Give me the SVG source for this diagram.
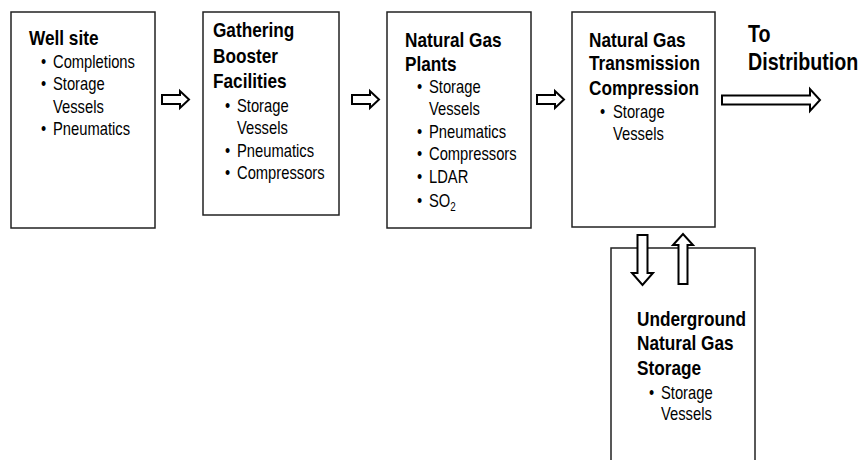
<svg xmlns="http://www.w3.org/2000/svg" width="863" height="460" viewBox="0 0 863 460">
<style>
.box{fill:#fff;stroke:#222;stroke-width:1.5}
.t,.i,.d{font-family:"Liberation Sans Narrow","Liberation Sans",Arial,sans-serif;fill:#000;transform-box:fill-box;transform-origin:0 0;transform:scaleX(0.82)}
.t{font-weight:bold;font-size:21px}
.d{font-weight:bold;font-size:24px}
.i{font-size:18px}
.arr{fill:#fff;stroke:#000;stroke-width:2;stroke-linejoin:miter}
</style>
<rect width="863" height="460" fill="#fff"/>
<g id="well-site">
<rect class="box" x="11" y="12" width="144" height="216"/>
<text class="t" x="29" y="45">Well site</text>
<text class="i" x="41" y="68">•</text><text class="i" x="53" y="68">Completions</text>
<text class="i" x="41" y="90">•</text><text class="i" x="53" y="90">Storage</text>
<text class="i" x="53" y="113">Vessels</text>
<text class="i" x="41" y="135">•</text><text class="i" x="53" y="135">Pneumatics</text>
</g>
<g id="gathering">
<rect class="box" x="203" y="12" width="136" height="203"/>
<text class="t" x="213" y="37">Gathering</text>
<text class="t" x="213" y="63">Booster</text>
<text class="t" x="213" y="88">Facilities</text>
<text class="i" x="225" y="112">•</text><text class="i" x="237" y="112">Storage</text>
<text class="i" x="237" y="134">Vessels</text>
<text class="i" x="225" y="157">•</text><text class="i" x="237" y="157">Pneumatics</text>
<text class="i" x="225" y="179">•</text><text class="i" x="237" y="179">Compressors</text>
</g>
<g id="plants">
<rect class="box" x="387" y="12" width="144" height="216"/>
<text class="t" x="405" y="47">Natural Gas</text>
<text class="t" x="405" y="71">Plants</text>
<text class="i" x="417" y="93">•</text><text class="i" x="429" y="93">Storage</text>
<text class="i" x="429" y="115">Vessels</text>
<text class="i" x="417" y="138">•</text><text class="i" x="429" y="138">Pneumatics</text>
<text class="i" x="417" y="160">•</text><text class="i" x="429" y="160">Compressors</text>
<text class="i" x="417" y="183">•</text><text class="i" x="429" y="183">LDAR</text>
<text class="i" x="417" y="207">•</text><text class="i" x="429" y="207">SO<tspan font-size="12" dy="4">2</tspan></text>
</g>
<g id="transmission">
<rect class="box" x="572" y="12" width="143" height="215"/>
<text class="t" x="589" y="47">Natural Gas</text>
<text class="t" x="589" y="70">Transmission</text>
<text class="t" x="589" y="95">Compression</text>
<text class="i" x="600" y="118">•</text><text class="i" x="613" y="118">Storage</text>
<text class="i" x="613" y="140">Vessels</text>
</g>
<g id="distribution">
<text class="d" x="748" y="42">To</text>
<text class="d" x="748" y="70">Distribution</text>
</g>
<g id="underground">
<rect class="box" x="611" y="248" width="144" height="230"/>
<text class="t" x="637" y="326">Underground</text>
<text class="t" x="637" y="350">Natural Gas</text>
<text class="t" x="637" y="375">Storage</text>
<text class="i" x="649" y="399">•</text><text class="i" x="661" y="399">Storage</text>
<text class="i" x="661" y="420">Vessels</text>
</g>
<g id="connectors">
<polygon class="arr" points="162,95 180,95 180,91 189,99.5 180,108 180,104 162,104"/>
<polygon class="arr" points="352,95 370,95 370,91 379,99.5 370,108 370,104 352,104"/>
<polygon class="arr" points="537,95 555,95 555,91 564,99.5 555,108 555,104 537,104"/>
<polygon class="arr" points="722,95.5 810,95.5 810,89 820,100 810,111 810,104.5 722,104.5"/>
<polygon class="arr" points="637.5,235 647.5,235 647.5,273 653,273 642.5,285 632,273 637.5,273"/>
<polygon class="arr" points="678.5,284 687.5,284 687.5,245 693,245 683,234 673,245 678.5,245"/>
</g>
</svg>
